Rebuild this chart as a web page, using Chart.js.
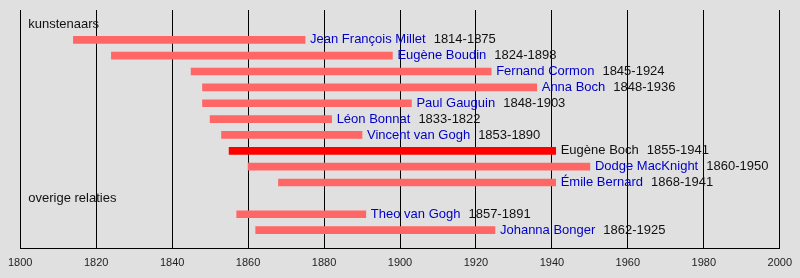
<!DOCTYPE html>
<html>
<head>
<meta charset="utf-8">
<script src="https://cdn.jsdelivr.net/npm/chart.js@4"></script>
<style>
  html, body { margin: 0; padding: 0; background: #e0e0e0; }
  #timeline { display: block; }
</style>
</head>
<body>
<canvas id="timeline" width="800" height="278"></canvas>
<script>
// rows of the timeline, headers have no years
const rows = ['kunstenaars', 'Jean François Millet', 'Eugène Boudin', 'Fernand Cormon', 'Anna Boch',
    'Paul Gauguin', 'Léon Bonnat', 'Vincent van Gogh', 'Eugène Boch', 'Dodge MacKnight',
    'Émile Bernard', 'overige relaties', 'Theo van Gogh', 'Johanna Bonger'];
const born = [null, 1814, 1824, 1845, 1848, 1848, 1850, 1853, 1855, 1860, 1868, null, 1857, 1862];
const died = [null, 1875, 1898, 1924, 1936, 1903, 1882, 1890, 1941, 1950, 1941, null, 1891, 1925];
const dateLabels = ['', '1814-1875', '1824-1898', '1845-1924', '1848-1936', '1848-1903', '1833-1822',
    '1853-1890', '1855-1941', '1860-1950', '1868-1941', '', '1857-1891', '1862-1925'];
const yearTicks = [1800, 1820, 1840, 1860, 1880, 1900, 1920, 1940, 1960, 1980, 2000];
const highlight = 'Eugène Boch';

const labelFont = '13px "Liberation Sans", Arial, sans-serif';

// names and dates after each bar, section headers at the left
const labelPlugin = {
    id: 'rowLabels',
    afterDatasetsDraw(chart) {
        const ctx = chart.ctx;
        const meta = chart.getDatasetMeta(0);
        const xs = chart.scales.x, ys = chart.scales.y;
        ctx.save();
        ctx.font = labelFont;
        ctx.textBaseline = 'middle';
        rows.forEach(function (name, i) {
            const y = ys.getPixelForValue(i);
            if (born[i] === null) {
                ctx.fillStyle = '#111';
                ctx.fillText(name, xs.left + 8, y);
                return;
            }
            const bar = meta.data[i];
            let x = Math.max(bar.x, bar.base) + 5;
            ctx.fillStyle = name === highlight ? '#111' : '#0000c8';
            ctx.fillText(name, x, y);
            x += ctx.measureText(name).width + 8;
            ctx.fillStyle = '#111';
            ctx.fillText(dateLabels[i], x, y);
        });
        ctx.restore();
    }
};

const ctx = document.getElementById('timeline').getContext('2d');
new Chart(ctx, {
    type: 'bar',
    data: {
        datasets: [{
            data: rows.map(function (name, i) {
                return { x: born[i] === null ? null : [born[i], died[i]], y: i };
            }),
            backgroundColor: rows.map(function (name) {
                return name === highlight ? '#ff0000' : '#ff6666';
            }),
            barThickness: 7,
            borderWidth: 0
        }]
    },
    options: {
        indexAxis: 'y',
        responsive: false,
        animation: false,
        layout: { padding: { left: 20, right: 20, top: 10, bottom: 0 } },
        plugins: { legend: { display: false }, tooltip: { enabled: false } },
        scales: {
            x: {
                type: 'linear',
                min: 1800,
                max: 2000,
                afterBuildTicks: function (axis) {
                    axis.ticks = yearTicks.map(function (v) { return { value: v }; });
                },
                afterFit: function (axis) {
                    axis.height = 30;
                },
                grid: { color: '#000', lineWidth: 1, drawTicks: false },
                border: { color: '#000', width: 1 },
                ticks: {
                    color: '#222',
                    padding: 8,
                    maxRotation: 0,
                    autoSkip: false,
                    callback: function (value) { return String(value); },
                    font: { family: '"Liberation Sans", Arial, sans-serif', size: 11 }
                }
            },
            y: {
                type: 'linear',
                display: false,
                reverse: true,
                offset: false,
                grid: { offset: false },
                min: -0.88,
                max: 14.13
            }
        }
    },
    plugins: [labelPlugin]
});
</script>
</body>
</html>
